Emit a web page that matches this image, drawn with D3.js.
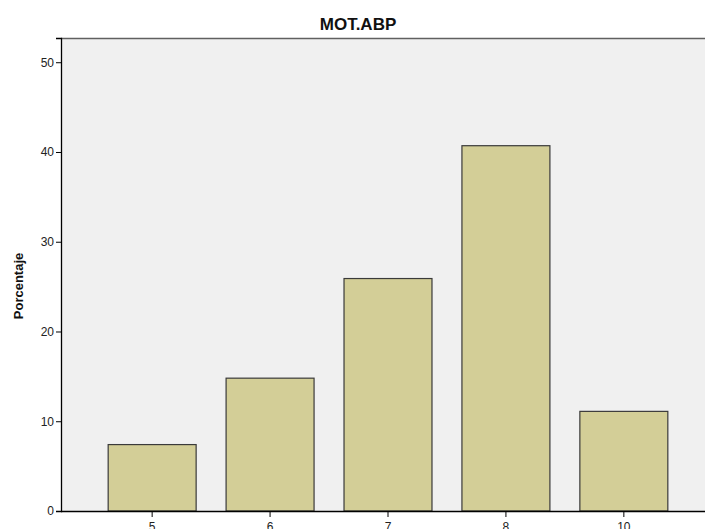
<!DOCTYPE html>
<html>
<head>
<meta charset="utf-8">
<script src="https://cdn.jsdelivr.net/npm/d3@7"></script>
<style>
  html, body { margin: 0; background: #fff; overflow: hidden; }
  svg { display: block; overflow: hidden; font-family: Arial, "Liberation Sans", sans-serif; }
</style>
</head>
<body>
<svg width="705" height="529"></svg>
<script>
// MOT.ABP percentages (n = 27)
var categories = ['5', '6', '7', '8', '10'];
var percents = [7.4, 14.8, 25.9, 40.7, 11.1];
var yTicks = [0, 10, 20, 30, 40, 50];

var svg = d3.select('svg'),
    margin = {top: 38, right: 0, bottom: 18, left: 61},
    width = +svg.attr('width') - margin.left - margin.right,
    height = +svg.attr('height') - margin.top - margin.bottom;

// the frame runs past the right edge of the picture, so the band range does too
var x = d3.scaleBand().domain(categories).range([0, width + 10]).paddingInner(0.254).paddingOuter(0.4);
var y = d3.scaleLinear().domain([0, 52.7]).range([height, 0]);

var g = svg.append('g')
    .attr('transform', 'translate(' + margin.left + ',' + margin.top + ')');

// plot background + top frame line (drawn past the edge, clipped by the svg)
g.append('rect')
    .attr('width', width + 20)
    .attr('height', height)
    .attr('fill', '#f0f0f0');
g.append('line')
    .attr('x1', 0).attr('x2', width + 20).attr('y1', 0.5).attr('y2', 0.5)
    .attr('stroke', '#606060').attr('stroke-width', 1.5);

// bars
g.selectAll('rect.bar')
    .data(categories)
  .enter().append('rect')
    .attr('class', 'bar')
    .attr('x', function(d) { return x(d); })
    .attr('y', function(d, i) { return y(percents[i]); })
    .attr('width', x.bandwidth())
    .attr('height', function(d, i) { return height - y(percents[i]); })
    .attr('fill', '#d3ce97')
    .attr('stroke', '#3a3a3a')
    .attr('stroke-width', 1.2);

// axes
var yAxis = g.append('g')
    .call(d3.axisLeft(y).tickValues(yTicks).tickSize(5).tickPadding(2));
var xAxis = g.append('g')
    .attr('transform', 'translate(0,' + height + ')')
    .call(d3.axisBottom(x).tickSize(6).tickSizeOuter(0).tickPadding(5));

[yAxis, xAxis].forEach(function(a) {
  a.select('.domain').attr('stroke', '#000').attr('stroke-width', 1.3);
  a.selectAll('.tick line').attr('stroke', '#000');
  a.selectAll('.tick text').attr('fill', '#222').style('font-size', '12px')
      .style('font-family', 'Arial, "Liberation Sans", sans-serif');
});
xAxis.select('.domain').attr('d', 'M0,0.5H' + (width + 20));

// title
svg.append('text')
    .attr('x', 358)
    .attr('y', 29.5)
    .attr('text-anchor', 'middle')
    .style('font-size', '17px')
    .style('font-weight', 'bold')
    .attr('fill', '#111')
    .text('MOT.ABP');

// y label
svg.append('text')
    .attr('transform', 'translate(23,286) rotate(-90)')
    .attr('text-anchor', 'middle')
    .style('font-size', '13px')
    .style('font-weight', 'bold')
    .attr('fill', '#111')
    .text('Porcentaje');
</script>
</body>
</html>
